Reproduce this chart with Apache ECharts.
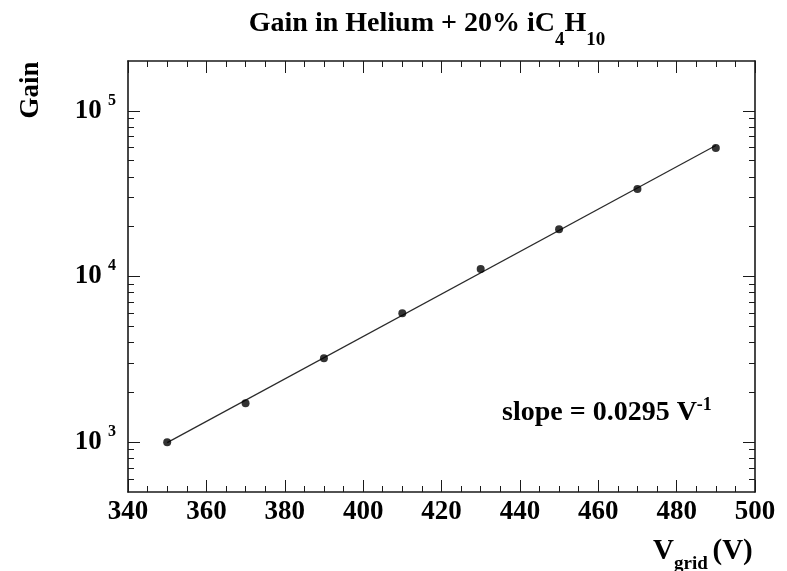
<!DOCTYPE html>
<html>
<head>
<meta charset="utf-8">
<script src="https://cdn.jsdelivr.net/npm/echarts@6/dist/echarts.min.js"></script>
<style>
  html, body { margin: 0; padding: 0; background: #ffffff; }
  #chart { width: 787px; height: 571px; }
</style>
</head>
<body>
<div id="chart"></div>
<script>
// Measured gain versus grid voltage
const voltages = [350, 370, 390, 410, 430, 450, 470, 490];
const gains = [1000, 1720, 3210, 6000, 11100, 19300, 33800, 59600];

// Exponential fit: slope in 1/V, one point the fit passes through, and its drawn span
const fitSlope = 0.0295;
const fitAnchor = [420, 7830];
const fitRange = [350, 490];

// Axis ticks
const xTickLabels = [340, 360, 380, 400, 420, 440, 460, 480, 500];
const yMajorTicks = [1000, 10000, 100000];
const yMinorTicks = [600, 700, 800, 900,
  2000, 3000, 4000, 5000, 6000, 7000, 8000, 9000,
  20000, 30000, 40000, 50000, 60000, 70000, 80000, 90000];

const SERIF = "'Liberation Serif', 'Times New Roman', serif";
const INK = '#1a1a1a';

const fitLine = fitRange.map(v => [v, fitAnchor[1] * Math.exp(fitSlope * (v - fitAnchor[0]))]);

const xBase = {
  type: 'value', min: xTickLabels[0], max: xTickLabels[xTickLabels.length - 1], interval: 20,
  splitLine: { show: false }, minorSplitLine: { show: false },
  axisLine: { show: true, onZero: false, lineStyle: { color: INK, width: 1.6 } },
  axisTick: { show: true, inside: true, length: 12, lineStyle: { color: INK, width: 1 } },
  minorTick: { show: true, splitNumber: 4, length: 6, lineStyle: { color: INK, width: 1 } }
};

const yBase = {
  type: 'log', logBase: 10, min: 500, max: 200000,
  splitLine: { show: false }, minorSplitLine: { show: false }, minorTick: { show: false }
};

function yAxisPair(position, withLabels) {
  return [
    Object.assign({}, yBase, {
      position: position,
      axisLine: { show: true, onZero: false, lineStyle: { color: INK, width: 1.6 } },
      axisTick: { show: true, inside: true, length: 12, customValues: yMajorTicks,
                  lineStyle: { color: INK, width: 1 } },
      axisLabel: withLabels ? {
        show: true, customValues: yMajorTicks, margin: 12,
        formatter: v => '{b|10} {s|' + Math.round(Math.log10(v)) + '}',
        rich: {
          b: { fontFamily: SERIF, fontWeight: 'bold', fontSize: 27, color: '#000',
               lineHeight: 36, height: 27, verticalAlign: 'middle' },
          s: { fontFamily: SERIF, fontWeight: 'bold', fontSize: 16, color: '#000',
               lineHeight: 15, height: 15, verticalAlign: 'top', padding: [0, 0, 0, 3] }
        }
      } : { show: false }
    }),
    Object.assign({}, yBase, {
      position: position,
      axisLine: { show: false },
      axisTick: { show: true, inside: true, length: 6, customValues: yMinorTicks,
                  lineStyle: { color: INK, width: 1 } },
      axisLabel: { show: false }
    })
  ];
}

const option = {
  backgroundColor: '#ffffff',
  animation: false,
  grid: { left: 128, right: 32, top: 61, bottom: 79 },
  xAxis: [
    Object.assign({}, xBase, {
      position: 'bottom',
      axisLabel: { show: true, margin: 7, fontFamily: SERIF, fontWeight: 'bold',
                   fontSize: 27, color: '#000' }
    }),
    Object.assign({}, xBase, { position: 'top', axisLabel: { show: false } })
  ],
  yAxis: yAxisPair('left', true).concat(yAxisPair('right', false)),
  series: [
    {
      name: 'fit', type: 'line', xAxisIndex: 0, yAxisIndex: 0,
      data: fitLine, showSymbol: false, symbol: 'none',
      lineStyle: { color: '#2a2a2a', width: 1.2 }, z: 2
    },
    {
      name: 'gain', type: 'scatter', xAxisIndex: 0, yAxisIndex: 0,
      data: voltages.map((v, i) => [v, gains[i]]),
      symbol: 'circle', symbolSize: 8,
      itemStyle: { color: '#000' }, z: 3
    }
  ],
  graphic: [
    {
      type: 'text', x: 427, y: 3,
      style: {
        text: '{m|Gain in Helium + 20% iC}{s|4}{m|H}{s|10}',
        align: 'center', verticalAlign: 'top',
        rich: {
          m: { fontFamily: SERIF, fontWeight: 'bold', fontSize: 28, fill: '#000',
               lineHeight: 42, height: 28, verticalAlign: 'middle' },
          s: { fontFamily: SERIF, fontWeight: 'bold', fontSize: 19, fill: '#000',
               lineHeight: 10, height: 10, verticalAlign: 'bottom' }
        }
      }
    },
    {
      type: 'text', x: 31, y: 90, rotation: Math.PI / 2,
      style: {
        text: 'Gain', fontFamily: SERIF, fontWeight: 'bold', fontSize: 27, fill: '#000',
        align: 'center', verticalAlign: 'middle'
      }
    },
    {
      type: 'text', x: 653, y: 532,
      style: {
        text: '{m|V}{s|grid }{m|(V)}',
        align: 'left', verticalAlign: 'top',
        rich: {
          m: { fontFamily: SERIF, fontWeight: 'bold', fontSize: 29, fill: '#000',
               lineHeight: 40, height: 29, verticalAlign: 'middle' },
          s: { fontFamily: SERIF, fontWeight: 'bold', fontSize: 19, fill: '#000',
               lineHeight: 15, height: 15, verticalAlign: 'bottom' }
        }
      }
    },
    {
      type: 'text', x: 502, y: 398,
      style: {
        text: '{m|slope = ' + fitSlope.toFixed(4) + ' V}{s|-1}',
        align: 'left', verticalAlign: 'top',
        rich: {
          m: { fontFamily: SERIF, fontWeight: 'bold', fontSize: 28, fill: '#000',
               lineHeight: 30, height: 28, verticalAlign: 'middle' },
          s: { fontFamily: SERIF, fontWeight: 'bold', fontSize: 18, fill: '#000',
               lineHeight: 14, height: 14, verticalAlign: 'top' }
        }
      }
    }
  ]
};

const chart = echarts.init(document.getElementById('chart'), null, { renderer: 'canvas' });
chart.setOption(option);
</script>
</body>
</html>
